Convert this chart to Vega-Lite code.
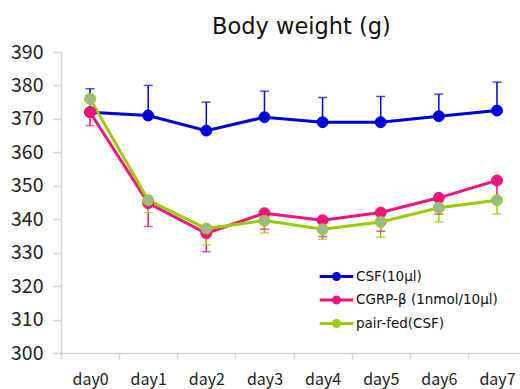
{
  "$schema": "https://vega.github.io/schema/vega-lite/v6.json",
  "width": 459,
  "height": 301,
  "autosize": {"type": "none"},
  "padding": {"left": 61, "top": 52, "right": 0, "bottom": 36},
  "background": "white",
  "config": {"view": {"stroke": null}, "font": "Noto Sans CJK JP"},
  "title": {"text": "Body weight (g)", "fontSize": 22.5, "fontWeight": "normal", "font": "DejaVu Sans", "color": "#111", "anchor": "middle", "frame": "group", "dx": 11, "offset": -14, "baseline": "alphabetic"},
  "data": {"values": [
    {"series": "CSF(10μl)", "day": 0, "weight": 372, "bar": 379},
    {"series": "CSF(10μl)", "day": 1, "weight": 371, "bar": 380},
    {"series": "CSF(10μl)", "day": 2, "weight": 366.5, "bar": 375},
    {"series": "CSF(10μl)", "day": 3, "weight": 370.5, "bar": 378.3},
    {"series": "CSF(10μl)", "day": 4, "weight": 369, "bar": 376.4},
    {"series": "CSF(10μl)", "day": 5, "weight": 369, "bar": 376.7},
    {"series": "CSF(10μl)", "day": 6, "weight": 370.8, "bar": 377.4},
    {"series": "CSF(10μl)", "day": 7, "weight": 372.5, "bar": 381},
    {"series": "CGRP-β (1nmol/10μl)", "day": 0, "weight": 372, "bar": 368},
    {"series": "CGRP-β (1nmol/10μl)", "day": 1, "weight": 344.8, "bar": 337.8},
    {"series": "CGRP-β (1nmol/10μl)", "day": 2, "weight": 335.8, "bar": 330.3},
    {"series": "CGRP-β (1nmol/10μl)", "day": 3, "weight": 341.8, "bar": 337},
    {"series": "CGRP-β (1nmol/10μl)", "day": 4, "weight": 339.7, "bar": 334.8},
    {"series": "CGRP-β (1nmol/10μl)", "day": 5, "weight": 342, "bar": 336.4},
    {"series": "CGRP-β (1nmol/10μl)", "day": 6, "weight": 346.4, "bar": 341.5},
    {"series": "CGRP-β (1nmol/10μl)", "day": 7, "weight": 351.6, "bar": 346.5},
    {"series": "pair-fed(CSF)", "day": 0, "weight": 376, "bar": 373},
    {"series": "pair-fed(CSF)", "day": 1, "weight": 345.7, "bar": 342},
    {"series": "pair-fed(CSF)", "day": 2, "weight": 337.2, "bar": 332.3},
    {"series": "pair-fed(CSF)", "day": 3, "weight": 339.6, "bar": 335.9},
    {"series": "pair-fed(CSF)", "day": 4, "weight": 337, "bar": 334},
    {"series": "pair-fed(CSF)", "day": 5, "weight": 339.2, "bar": 334.6},
    {"series": "pair-fed(CSF)", "day": 6, "weight": 343.4, "bar": 339.2},
    {"series": "pair-fed(CSF)", "day": 7, "weight": 345.7, "bar": 341.6}
  ]},
  "encoding": {
    "x": {"field": "day", "type": "quantitative",
      "scale": {"domain": [-0.5, 7.396], "nice": false, "zero": false},
      "axis": {"title": null, "values": [-0.5, 0, 0.5, 1, 1.5, 2, 2.5, 3, 3.5, 4, 4.5, 5, 5.5, 6, 6.5, 7],
        "labelExpr": "datum.value % 1 === 0 ? 'day' + datum.value : ''",
        "tickOpacity": {"condition": {"test": "datum.value % 1 !== 0", "value": 1}, "value": 0},
        "grid": false, "domainColor": "#d4d4d4", "domainWidth": 1.5, "tickColor": "#d4d4d4", "tickWidth": 1.5, "tickSize": 6,
        "labelFontSize": 16, "labelColor": "#222", "labelPadding": 12, "labelFlush": false, "labelOverlap": false}},
    "y": {"field": "weight", "type": "quantitative", "scale": {"domain": [300, 390], "nice": false, "zero": false},
      "axis": {"title": null, "values": [300, 310, 320, 330, 340, 350, 360, 370, 380, 390], "grid": false,
        "domainColor": "#d4d4d4", "domainWidth": 1.5, "tickColor": "#d4d4d4", "tickWidth": 1.5, "tickSize": 8,
        "labelFontSize": 19.5, "labelColor": "#222", "labelPadding": 10, "labelFlush": false, "labelOverlap": false}}
  },
  "layer": [
    {"mark": {"type": "rule", "strokeWidth": 1.5},
     "encoding": {
       "y2": {"field": "bar"},
       "stroke": {"field": "series", "type": "nominal",
         "scale": {"domain": ["CSF(10μl)", "CGRP-β (1nmol/10μl)", "pair-fed(CSF)"], "range": ["#0000d8", "#f0147c", "#99cc00"]}}
     }},
    {"mark": {"type": "tick", "orient": "horizontal", "size": 9, "thickness": 1.5},
     "encoding": {
       "y": {"field": "bar", "type": "quantitative",
         "axis": {"title": null, "values": [300, 310, 320, 330, 340, 350, 360, 370, 380, 390], "grid": false,
           "domainColor": "#d4d4d4", "domainWidth": 1.5, "tickColor": "#d4d4d4", "tickWidth": 1.5, "tickSize": 8,
           "labelFontSize": 19.5, "labelColor": "#222", "labelPadding": 10, "labelFlush": false, "labelOverlap": false}},
       "color": {"field": "series", "type": "nominal", "legend": null,
         "scale": {"domain": ["CSF(10μl)", "CGRP-β (1nmol/10μl)", "pair-fed(CSF)"], "range": ["#0000d8", "#f0147c", "#99cc00"]}}
     }},
    {"mark": {"type": "line", "strokeWidth": 3},
     "encoding": {
       "stroke": {"field": "series", "type": "nominal",
         "legend": {"title": null, "orient": "none", "legendX": 268, "legendY": 217,
           "symbolType": "M-2.8,0L2.8,0M-0.5,0A0.5,0.5,0,1,0,0.5,0A0.5,0.5,0,1,0,-0.5,0Z",
           "symbolSize": 144, "symbolStrokeWidth": 3, "labelFontSize": 13.5, "labelOffset": 12, "rowPadding": 4.5,
           "labelColor": "#111", "labelFont": "DejaVu Sans", "labelLimit": 300,
           "encode": {"symbols": {"update": {"fill": {"scale": "fill", "field": "value"}, "stroke": {"scale": "stroke", "field": "value"}}}}}}
     }},
    {"mark": {"type": "point", "filled": true, "size": 120, "strokeWidth": 1, "opacity": 1},
     "encoding": {
       "fill": {"field": "series", "type": "nominal", "legend": null,
         "scale": {"domain": ["CSF(10μl)", "CGRP-β (1nmol/10μl)", "pair-fed(CSF)"], "range": ["#0000d8", "#f0147c", "#9cba8c"]}},
       "stroke": {"field": "series", "type": "nominal"}
     }}
  ]
}
